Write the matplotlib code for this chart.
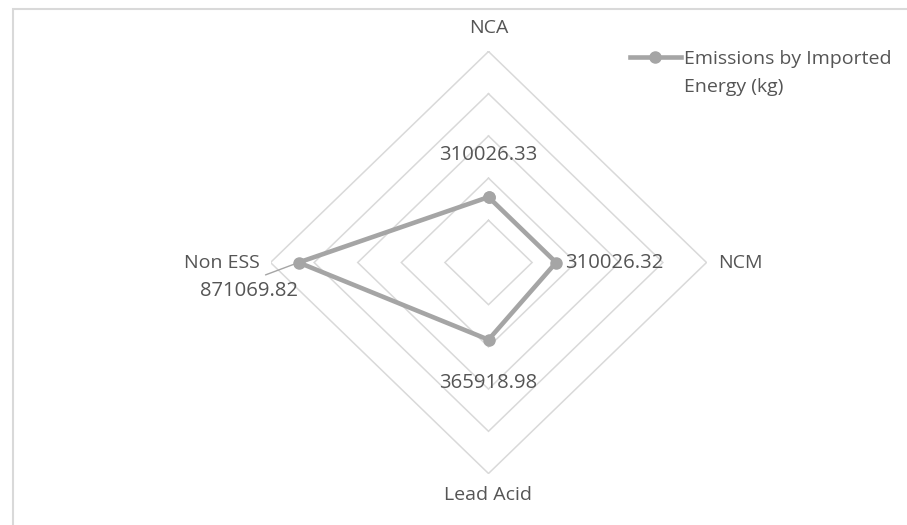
import numpy as np
import matplotlib
matplotlib.use("Agg")
import matplotlib.pyplot as plt
from matplotlib.patches import Rectangle

# ---- data ----
categories = ["NCA", "NCM", "Lead Acid", "Non ESS"]
values = [310026.33, 310026.32, 365918.98, 871069.82]
value_labels = ["310026.33", "310026.32", "365918.98", "871069.82"]
ring_levels = [200000, 400000, 600000, 800000, 1000000]
series_name = "Emissions by Imported\nEnergy (kg)"

plt.rcParams['font.family'] = ['Open Sans', 'DejaVu Sans']
TXT = '#555555'
GRID = '#D9D9D9'
LINE = '#A5A5A5'
FS = 14
FS_DL = 14.6

W, H = 907, 525
fig = plt.figure(figsize=(W / 100, H / 100), dpi=100)
fig.patch.set_facecolor('white')

# chart area border (extends past right / bottom edges)
fig.patches.append(Rectangle((12.5 / W, -0.2), 2.0, (1 - 9.5 / H) + 0.2,
                             transform=fig.transFigure, fill=False,
                             ec=GRID, lw=1.5, zorder=0))

# radar axes (cartesian, with radial values projected)
cx, cy = 488.5, 262.5
rx, ry = 218.0, 211.0
ax = fig.add_axes([(cx - rx) / W, (H - (cy + ry)) / H, 2 * rx / W, 2 * ry / H])
rmax = ring_levels[-1]
ax.set_xlim(-rmax, rmax)
ax.set_ylim(-rmax, rmax)
ax.axis('off')

n = len(categories)
angles = np.deg2rad(90 - 360.0 / n * np.arange(n))
cs, sn = np.cos(angles), np.sin(angles)

for r in ring_levels:
    xs = np.append(r * cs, r * cs[0])
    ys = np.append(r * sn, r * sn[0])
    ax.plot(xs, ys, color=GRID, lw=1.1, zorder=1, solid_joinstyle='miter')

v = np.array(values)
px, py = v * cs, v * sn
ax.plot(np.append(px, px[0]), np.append(py, py[0]), color=LINE, lw=3.3,
        marker='o', ms=8, solid_joinstyle='round', zorder=3, label=series_name)

# category labels
cat_offsets = [((0, 17), 'center', 'center'),
               ((8.3, 0), 'left', 'center'),
               ((0, -15.5), 'center', 'center'),
               ((-7.6, 0), 'right', 'center')]
for i, (lab, (off, ha, va)) in enumerate(zip(categories, cat_offsets)):
    ax.annotate(lab, xy=(rmax * cs[i], rmax * sn[i]), xytext=off,
                textcoords='offset points', ha=ha, va=va, fontsize=FS,
                color=TXT, annotation_clip=False)

# data labels
dl_offsets = [((0, 30.2), 'center'),
              ((6.5, 0), 'left'),
              ((0, -31), 'center'),
              ((-35.5, -20.5), 'center')]
for i, (lab, (off, ha)) in enumerate(zip(value_labels, dl_offsets)):
    if i == 3:
        ax.annotate(lab, xy=(px[i], py[i]), xytext=off,
                    textcoords='offset points', ha=ha, va='center',
                    fontsize=FS_DL, color=TXT, annotation_clip=False,
                    bbox=dict(boxstyle='square,pad=0.3', fc='none', ec='none'),
                    arrowprops=dict(arrowstyle='-', color=LINE, lw=1.0,
                                    shrinkA=0, shrinkB=0, relpos=(0.5, 1.0)),
                    zorder=2)
    else:
        ax.annotate(lab, xy=(px[i], py[i]), xytext=off,
                    textcoords='offset points', ha=ha, va='center',
                    fontsize=FS_DL, color=TXT, annotation_clip=False)

leg = ax.legend(loc='upper left', bbox_to_anchor=(630 / W, 1 - 50 / H),
                bbox_transform=fig.transFigure, frameon=False,
                handlelength=2.6, handletextpad=0.2, borderpad=0,
                borderaxespad=0, fontsize=FS, labelcolor=TXT)
for t in leg.get_texts():
    t.set_linespacing(1.7)
for col in leg._legend_handle_box.get_children():
    for item in col.get_children():
        item.align = 'top'

fig.savefig('out.png', dpi=100)
